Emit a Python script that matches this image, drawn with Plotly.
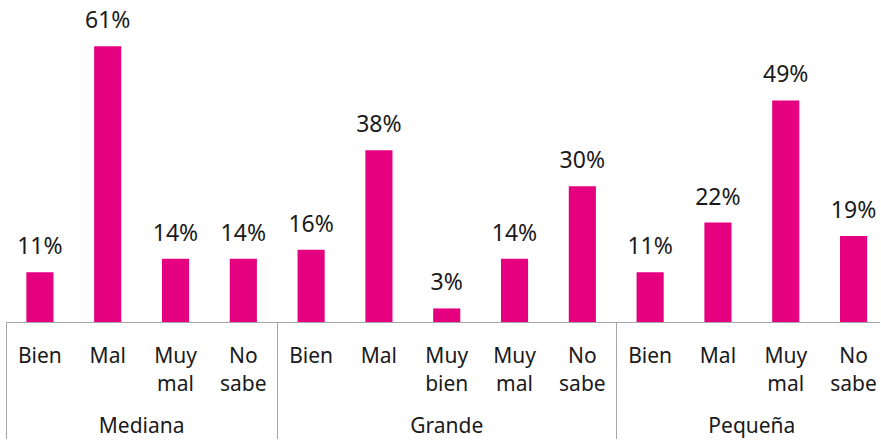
import plotly.graph_objects as go

groups = ["Mediana"] * 4 + ["Grande"] * 5 + ["Pequeña"] * 4
categories = ["Bien", "Mal", "Muy mal", "No sabe",
              "Bien", "Mal", "Muy bien", "Muy mal", "No sabe",
              "Bien", "Mal", "Muy mal", "No sabe"]
values = [11, 61, 14, 14, 16, 38, 3, 14, 30, 11, 22, 49, 19]

group_names = list(dict.fromkeys(groups))


def tick_label(cat, grp):
    # line-break two-word labels and keep each group's sub-labels unique
    # (zero-width spaces) so the original order is kept
    return "<br>".join(cat.split(" ")) + "\u200b" * group_names.index(grp)


sub_labels = [tick_label(c, g) for c, g in zip(categories, groups)]
group_labels = ["<br>" + g for g in groups]  # blank first line pushes group names down
x = [group_labels, sub_labels]

color = "#E4007F"
tick_font = dict(family="Noto Sans", size=21, color="#1a1a1a")
value_font = dict(family="Noto Sans", size=23, color="#1a1a1a")

fig = go.Figure()
fig.add_trace(go.Bar(
    x=x, y=values,
    marker=dict(color=color, line=dict(width=0)),
    hoverinfo="skip",
))
fig.add_trace(go.Scatter(
    x=x, y=values,
    mode="markers+text",
    marker=dict(size=18, opacity=0),
    text=[f"{v}%" for v in values],
    textposition="top center",
    textfont=value_font,
    cliponaxis=False,
    hoverinfo="skip",
))

fig.update_layout(
    width=881, height=443,
    margin=dict(l=6, r=1, t=0, b=121),
    paper_bgcolor="white", plot_bgcolor="white",
    bargap=0.6,
    showlegend=False,
    font=tick_font,
)
fig.update_xaxes(
    type="multicategory",
    range=[-0.5, 12.39],
    automargin=False,
    showline=True, linecolor="#a6a6a6", linewidth=1,
    showgrid=False, ticks="",
    showdividers=True, dividercolor="#a6a6a6", dividerwidth=1,
    tickfont=tick_font,
    ticklabelstandoff=15,
)
fig.update_yaxes(visible=False, range=[0, 71.2], showgrid=False, automargin=False)

fig.write_html(
    "out.html",
    config={"displayModeBar": False},
    post_script="document.body.style.margin='0';",
)
